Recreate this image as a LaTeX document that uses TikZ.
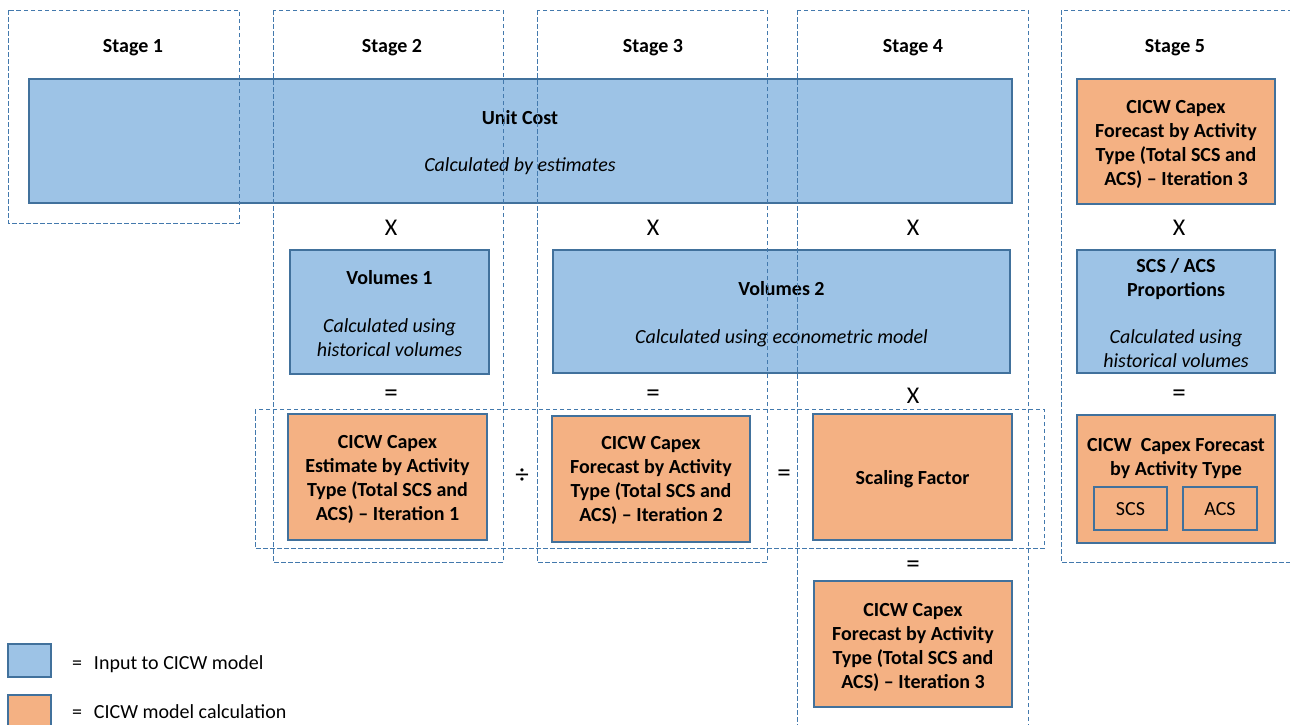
\documentclass[tikz,border=0pt]{standalone}
\usepackage{fontspec}
\setmainfont{Carlito}
\definecolor{inblue}{HTML}{9DC3E6}
\definecolor{calcor}{HTML}{F4B183}
\definecolor{edgec}{HTML}{41719C}
\definecolor{dashc}{HTML}{4379AD}
\begin{document}
\begin{tikzpicture}[x=1pt,y=-1pt,
  every node/.style={inner sep=0pt, outer sep=0pt},
  txt/.style={font=\fontsize{20}{24}\selectfont},
  bold/.style={font=\fontsize{20}{24}\selectfont\bfseries},
  ital/.style={font=\fontsize{20}{24}\selectfont\itshape},
  sym/.style={font=\fontsize{24}{26}\selectfont},
  opsym/.style={font=\fontsize{27}{28}\selectfont},
  inbox/.style={draw=edgec, line width=1.2pt, fill=inblue},
  calcbox/.style={draw=edgec, line width=1.2pt, fill=calcor, align=center, font=\fontsize{20}{24}\selectfont\bfseries},
  stagebox/.style={draw=dashc, line width=1pt, dash pattern=on 4.5pt off 2.5pt},
  legtxt/.style={font=\fontsize{20}{24}\selectfont, anchor=base west}
]
\useasboundingbox (0,0) rectangle (1290,724);
\clip (0,0) rectangle (1290,724);

% Stage labels
\node[bold, anchor=base] (s1) at (133,52) {Stage 1};
\node[bold, anchor=base] (s2) at (392,52) {Stage 2};
\node[bold, anchor=base] (s3) at (653,52) {Stage 3};
\node[bold, anchor=base] (s4) at (913,52) {Stage 4};
\node[bold, anchor=base] (s5) at (1175,52) {Stage 5};

% Unit cost
\node[inbox, minimum width=983pt, minimum height=124pt] (unit) at (520.5,141) {};
\node[bold, anchor=base] (unitt) at (520,124) {Unit Cost};
\node[ital, anchor=base] (units) at (520,171) {Calculated by estimates};

% Stage 5 top
\node[calcbox, minimum width=198pt, minimum height=125pt] (it3a) at (1176,141.5) {};
\node[calcbox, draw=none, fill=none, anchor=north] (it3at) at (1176,100)
  {CICW Capex\\Forecast by Activity\\Type (Total SCS and\\ACS) -- Iteration 3};

% X row
\node[sym] (x1) at (391,228) {X};
\node[sym] (x2) at (653,228) {X};
\node[sym] (x3) at (913,228) {X};
\node[sym] (x4) at (1179,228) {X};

% Volumes 1
\node[inbox, minimum width=199pt, minimum height=124pt] (vol1) at (389.5,312) {};
\node[bold, anchor=base] (vol1t) at (389.5,284) {Volumes 1};
\node[ital, anchor=base] (vol1a) at (389.5,332) {Calculated using};
\node[ital, anchor=base] (vol1b) at (389.5,356) {historical volumes};

% Volumes 2
\node[inbox, minimum width=457pt, minimum height=123pt] (vol2) at (781.5,311.5) {};
\node[bold, anchor=base] (vol2t) at (781.5,295) {Volumes 2};
\node[ital, anchor=base] (vol2a) at (781.5,343) {Calculated using econometric model};

% SCS / ACS proportions
\node[inbox, minimum width=198pt, minimum height=123pt] (prop) at (1176,311.5) {};
\node[bold, anchor=base] (propa) at (1176,272) {SCS / ACS};
\node[bold, anchor=base] (propb) at (1176,296) {Proportions};
\node[ital, anchor=base] (propc) at (1176,343) {Calculated using};
\node[ital, anchor=base] (propd) at (1176,367) {historical volumes};

% second symbol row
\node[opsym] (e1) at (391,396) {=};
\node[opsym] (e2) at (653,396) {=};
\node[sym] (x5) at (913,396) {X};
\node[opsym] (e3) at (1179,396) {=};

% Iteration boxes
\node[calcbox, minimum width=199pt, minimum height=126pt] (it1) at (387.5,477) {};
\node[calcbox, draw=none, fill=none, anchor=north] (it1t) at (387.5,435)
  {CICW Capex\\Estimate by Activity\\Type (Total SCS and\\ACS) -- Iteration 1};
\node[opsym] (div) at (522,476) {÷};
\node[calcbox, minimum width=198pt, minimum height=126pt] (it2) at (651,479) {};
\node[calcbox, draw=none, fill=none, anchor=north] (it2t) at (651,436)
  {CICW Capex\\Forecast by Activity\\Type (Total SCS and\\ACS) -- Iteration 2};
\node[opsym] (e4) at (784,476) {=};
\node[calcbox, minimum width=199pt, minimum height=126pt] (scale) at (912.5,477) {};
\node[bold, anchor=base] (scalet) at (912.5,484) {Scaling Factor};

% Stage 5 bottom box
\node[calcbox, minimum width=198pt, minimum height=128pt] (fc) at (1176,479) {};
\node[bold, anchor=base] (fca) at (1176,451) {CICW\ \ Capex Forecast};
\node[bold, anchor=base] (fcb) at (1176,475) {by Activity Type};
\node[draw=edgec, line width=1.2pt, minimum width=73pt, minimum height=43pt] (scs) at (1130.5,508.5) {};
\node[txt, anchor=base] (scst) at (1130.5,515.5) {SCS};
\node[draw=edgec, line width=1.2pt, minimum width=74pt, minimum height=43pt] (acs) at (1220,508.5) {};
\node[txt, anchor=base] (acst) at (1220,515.5) {ACS};

% bottom iteration 3
\node[opsym] (e5) at (913,567) {=};
\node[calcbox, minimum width=198pt, minimum height=126pt] (it3b) at (913,644) {};
\node[calcbox, draw=none, fill=none, anchor=north] (it3bt) at (913,603)
  {CICW Capex\\Forecast by Activity\\Type (Total SCS and\\ACS) -- Iteration 3};

% Legend
\node[inbox, minimum width=43pt, minimum height=33pt] (legb) at (29.5,660.5) {};
\node[legtxt] (legbt) at (72,669) {=\hspace{12pt}Input to CICW model};
\node[calcbox, minimum width=43pt, minimum height=40pt] (lego) at (29.5,715) {};
\node[legtxt] (legot) at (72,718) {=\hspace{12pt}CICW model calculation};

% Dashed stage frames
\draw[stagebox] (8,10) rectangle (239,223);
\draw[stagebox] (273,10) rectangle (503,562);
\draw[stagebox] (537,10) rectangle (767,562);
\draw[stagebox] (797,10) rectangle (1028,740);
\draw[stagebox] (1061,10) rectangle (1300,562);
\draw[stagebox] (255,409) rectangle (1044,548);
\end{tikzpicture}
\end{document}
